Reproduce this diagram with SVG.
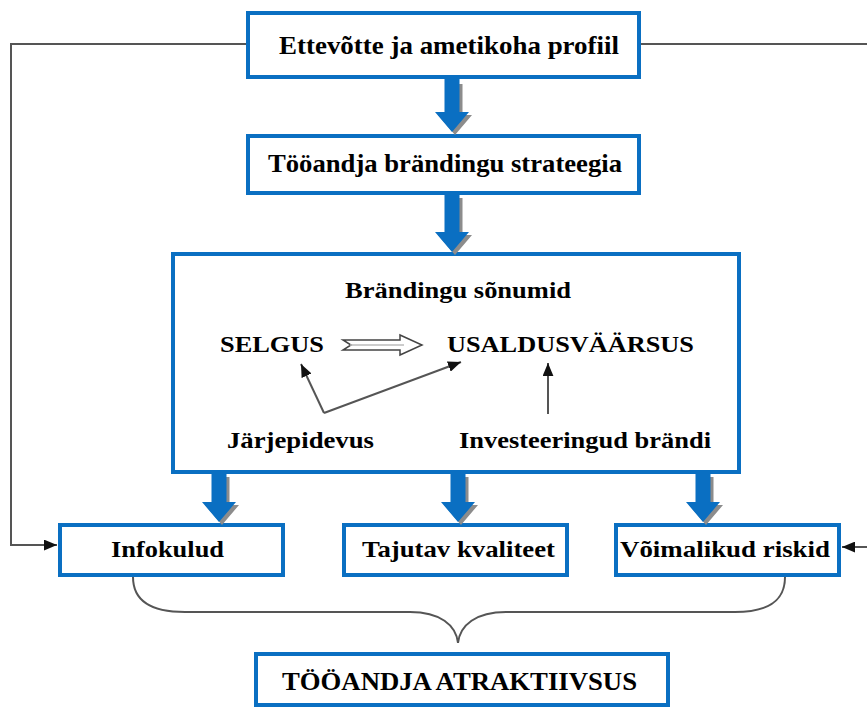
<svg xmlns="http://www.w3.org/2000/svg" width="867" height="707" viewBox="0 0 867 707">
<style>
.box{fill:#fff;stroke:#0A6FC2;stroke-width:4}
.t{font-family:"Liberation Serif","Times New Roman",serif;font-weight:bold;fill:#000;font-size:23px}
.big{font-size:26px}
.ln{fill:none;stroke:#555;stroke-width:2}
.blue{fill:#0A6FC2}
.shadow{fill:#8c8c8c}
</style>
<defs>
<marker id="ah" viewBox="0 0 12 10" refX="12" refY="5" markerWidth="13" markerHeight="11" markerUnits="userSpaceOnUse" orient="auto">
<path d="M0,0 L12,5 L0,10 Z" fill="#111"/>
</marker>
</defs>
<g id="profile">
<rect class="box" x="248" y="13" width="391" height="64"/>
<text class="t big" x="279" y="54" textLength="340" lengthAdjust="spacingAndGlyphs">Ettevõtte ja ametikoha profiil</text>
</g>
<g id="strategy">
<rect class="box" x="248" y="136" width="391" height="57"/>
<text class="t big" x="268" y="172" textLength="354" lengthAdjust="spacingAndGlyphs">Tööandja brändingu strateegia</text>
</g>
<g id="messages">
<rect class="box" x="173" y="254" width="566" height="218"/>
<text class="t" x="345" y="298" textLength="226" lengthAdjust="spacingAndGlyphs">Brändingu sõnumid</text>
<text class="t" x="220" y="352" textLength="104" lengthAdjust="spacingAndGlyphs">SELGUS</text>
<text class="t" x="447" y="352" textLength="247" lengthAdjust="spacingAndGlyphs">USALDUSVÄÄRSUS</text>
<text class="t" x="227" y="448" textLength="147" lengthAdjust="spacingAndGlyphs">Järjepidevus</text>
<text class="t" x="459" y="448" textLength="252" lengthAdjust="spacingAndGlyphs">Investeeringud brändi</text>
</g>
<g id="infokulud">
<rect class="box" x="60" y="525" width="223" height="50"/>
<text class="t" x="111" y="557" textLength="113" lengthAdjust="spacingAndGlyphs">Infokulud</text>
</g>
<g id="kvaliteet">
<rect class="box" x="344" y="525" width="223" height="50"/>
<text class="t" x="362" y="557" textLength="193" lengthAdjust="spacingAndGlyphs">Tajutav kvaliteet</text>
</g>
<g id="riskid">
<rect class="box" x="616" y="525" width="223" height="50"/>
<text class="t" x="620" y="557" textLength="210" lengthAdjust="spacingAndGlyphs">Võimalikud riskid</text>
</g>
<g id="atraktiivsus">
<rect class="box" x="256" y="654" width="412" height="51"/>
<text class="t big" x="282" y="690" textLength="355" lengthAdjust="spacingAndGlyphs">TÖÖANDJA ATRAKTIIVSUS</text>
</g>
<g id="connectors">
<path class="ln" d="M246,44 H11 V545 H57" marker-end="url(#ah)"/>
<path class="ln" d="M641,44 H867"/>
<path class="ln" d="M867,547 H842" marker-end="url(#ah)"/>
<path class="ln" stroke="#333" d="M324,413 L301,364" marker-end="url(#ah)"/>
<path class="ln" stroke="#333" d="M324,413 L461,362" marker-end="url(#ah)"/>
<path class="ln" stroke="#333" d="M548,414 V363" marker-end="url(#ah)"/>
<path d="M343,340 H400 V335 L422,345 L400,355 V350 H343 L351,345 Z" fill="#fff" stroke="#444" stroke-width="1.5"/>
<path d="M350,345 H404" stroke="#bbb" stroke-width="1.5"/>
<path class="ln" stroke="#666" d="M133,577 C133,600 150,612 185,612 H410 C440,612 456,625 458,643 C460,625 476,612 506,612 H735 C770,612 785,600 785,577"/>
<g class="shadow" transform="translate(3,3)">
<path d="M444.5,81 H459.5 V112 H469 L452,132 L435,112 H444.5 Z"/>
<path d="M444.5,195 H459.5 V232 H469 L452,252 L435,232 H444.5 Z"/>
<path d="M211.5,474 H226.5 V502 H236 L219,522 L202,502 H211.5 Z"/>
<path d="M450.5,474 H465.5 V502 H475 L458,522 L441,502 H450.5 Z"/>
<path d="M695.5,474 H710.5 V502 H720 L703,522 L686,502 H695.5 Z"/>
</g>
<g class="blue">
<path d="M444.5,79 H459.5 V112 H469 L452,132 L435,112 H444.5 Z"/>
<path d="M444.5,195 H459.5 V232 H469 L452,252 L435,232 H444.5 Z"/>
<path d="M211.5,474 H226.5 V502 H236 L219,522 L202,502 H211.5 Z"/>
<path d="M450.5,474 H465.5 V502 H475 L458,522 L441,502 H450.5 Z"/>
<path d="M695.5,474 H710.5 V502 H720 L703,522 L686,502 H695.5 Z"/>
</g>
</g>
</svg>
